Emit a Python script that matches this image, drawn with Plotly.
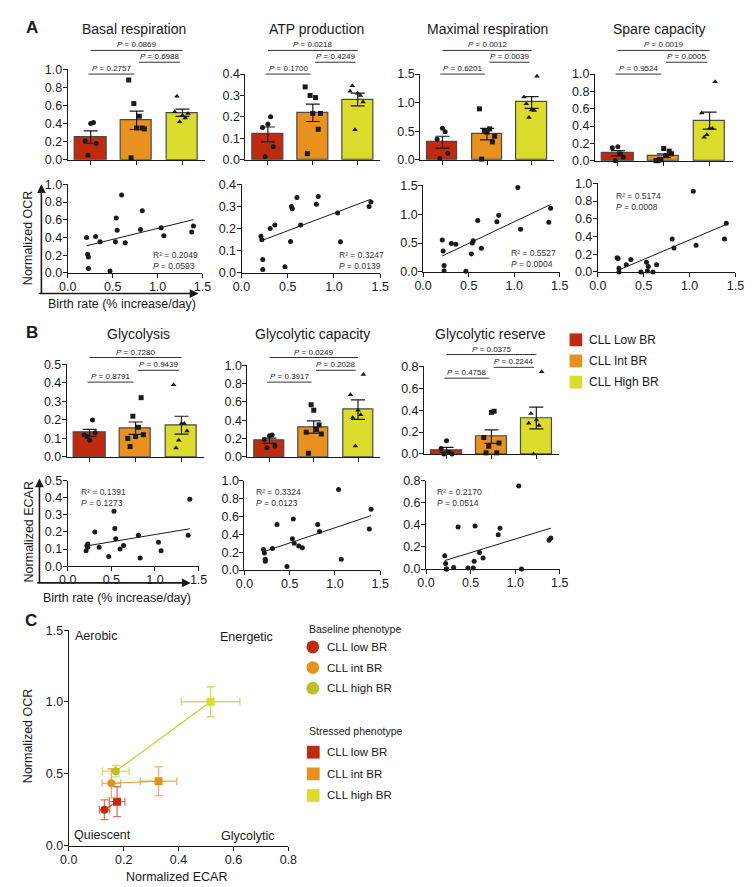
import numpy as np
import plotly.graph_objects as go

W, H = 756, 887

# ---------------- data ----------------
birth_rate = [0.21, 0.22, 0.23, 0.23, 0.31, 0.36, 0.47, 0.53, 0.54, 0.55, 0.60, 0.64,
              0.81, 0.83, 1.04, 1.07, 1.38, 1.40]
br_group = ["low", "low", "low", "low", "low",
            "int", "int", "int", "int", "int", "int", "int",
            "high", "high", "high", "high", "high", "high"]
group_order = ["low", "int", "high"]

basal_resp = [0.40, 0.21, 0.18, 0.05, 0.41, 0.35, 0.02, 0.35, 0.62, 0.48, 0.88, 0.34,
              0.49, 0.70, 0.51, 0.42, 0.46, 0.53]
atp_prod = [0.165, 0.15, 0.06, 0.015, 0.20, 0.216, 0.028, 0.142, 0.30, 0.29, 0.34, 0.216,
            0.31, 0.345, 0.27, 0.14, 0.30, 0.32]
maximal_resp = [0.55, 0.36, 0.11, 0.02, 0.49, 0.48, 0.01, 0.31, 0.50, 0.54, 0.89, 0.41,
                0.87, 0.98, 1.46, 0.74, 0.86, 1.10]
spare_cap = [0.16, 0.15, 0.04, 0.00, 0.08, 0.14, 0.00, 0.11, 0.01, 0.06, 0.00, 0.08,
             0.37, 0.27, 0.91, 0.30, 0.37, 0.55]
glycolysis = [0.09, 0.12, 0.13, 0.11, 0.20, 0.11, 0.056, 0.32, 0.22, 0.16, 0.10, 0.12,
              0.18, 0.048, 0.14, 0.09, 0.18, 0.39]
glyc_capacity = [0.23, 0.19, 0.12, 0.10, 0.24, 0.51, 0.04, 0.35, 0.57, 0.30, 0.27, 0.25,
                 0.51, 0.43, 0.90, 0.12, 0.46, 0.68]
glyc_reserve = [0.12, 0.05, 0.00, 0.00, 0.015, 0.38, 0.01, 0.01, 0.07, 0.39, 0.15, 0.10,
                0.31, 0.37, 0.75, 0.00, 0.26, 0.28]

titles_A = ["Basal respiration", "ATP production", "Maximal respiration", "Spare capacity"]
titles_B = ["Glycolysis", "Glycolytic capacity", "Glycolytic reserve"]

# bracket p-values: [low vs high, int vs high, low vs int]
pvals_basal = ["0.0869", "0.6988", "0.2757"]
pvals_atp = ["0.0218", "0.4249", "0.1700"]
pvals_maximal = ["0.0012", "0.0039", "0.6201"]
pvals_spare = ["0.0019", "0.0005", "0.9524"]
pvals_glycolysis = ["0.7280", "0.9439", "0.8791"]
pvals_capacity = ["0.0249", "0.2028", "0.3917"]
pvals_reserve = ["0.0375", "0.2244", "0.4758"]

r2_A = ["0.2049", "0.3247", "0.5527", "0.5174"]
preg_A = ["0.0593", "0.0139", "0.0004", "0.0008"]
r2_B = ["0.1391", "0.3324", "0.2170"]
preg_B = ["0.1273", "0.0123", "0.0514"]

legend_B = ["CLL Low BR", "CLL Int BR", "CLL High BR"]
legend_C = ["CLL low BR", "CLL int BR", "CLL high BR"]
quadrants = ["Aerobic", "Energetic", "Quiescent", "Glycolytic"]

# ---------------- style ----------------
FONT = "Liberation Sans, Arial, Helvetica, sans-serif"
INK = "#1a1a1a"
BAR_COLORS = ["#C02A0E", "#E8911E", "#DCDC2F"]
BASE_COLORS = ["#C02A0E", "#E8911E", "#BDBD2C"]
STRESS_COLORS = ["#C02A0E", "#E8911E", "#DCDC2F"]
LINK_COLORS = ["#C84A30", "#EC9A35", "#C8CC3C"]
ERR_COLORS = ["rgba(200,70,50,0.75)", "rgba(236,150,50,0.75)", "rgba(205,208,70,0.8)"]
SYMBOLS = ["circle", "square", "triangle-up"]
JITTER = [0.0, -0.12, 0.12, -0.06, 0.06, -0.17, 0.17]

fig = go.Figure()
layout = {}
annotations = []
shapes = []


def px_x(p):
    return p / W


def px_y(p):
    return 1 - p / H


def text(xp, yp, s, size=12, xanchor="center", yanchor="middle", angle=0, bold=False, align="left", color=INK):
    annotations.append(dict(x=px_x(xp), y=px_y(yp), xref="paper", yref="paper", text=(f"<b>{s}</b>" if bold else s),
                            showarrow=False, xanchor=xanchor, yanchor=yanchor, textangle=angle, align=align,
                            font=dict(family=FONT, size=size, color=color)))


axis_count = [0]


def new_axes(xpx, ypx, xrange, yrange, ydtick, xdtick=None, xtickvals=None):
    axis_count[0] += 1
    i = axis_count[0]
    xk = "xaxis" if i == 1 else f"xaxis{i}"
    yk = "yaxis" if i == 1 else f"yaxis{i}"
    xr = "x" if i == 1 else f"x{i}"
    yr = "y" if i == 1 else f"y{i}"
    common = dict(showline=True, linecolor=INK, linewidth=1, ticks="outside", ticklen=4, tickwidth=1,
                  tickcolor=INK, showgrid=False, zeroline=False, ticklabelstandoff=-2,
                  tickfont=dict(family=FONT, size=12.5, color=INK), fixedrange=True)
    xa = dict(common, domain=[px_x(xpx[0]), px_x(xpx[1])], range=xrange, anchor=yr)
    if xtickvals is not None:
        xa.update(tickmode="array", tickvals=xtickvals, ticktext=[""] * len(xtickvals))
    else:
        xa.update(dtick=xdtick, tick0=0, tickformat=".1f")
    ya = dict(common, domain=[px_y(ypx[1]), px_y(ypx[0])], range=yrange, anchor=xr,
              dtick=ydtick, tick0=0, tickformat=".1f")
    layout[xk] = xa
    layout[yk] = ya
    return xr, yr


def group_stats(values):
    v = np.array(values, dtype=float)
    g = np.array(br_group)
    means, sems = [], []
    for name in group_order:
        sub = v[g == name]
        means.append(sub.mean())
        sems.append(sub.std(ddof=1) / np.sqrt(len(sub)))
    return means, sems


def bar_panel(values, xpx, ypx, ymax, ydtick, title, title_xy, pvals, bracket_y):
    xr, yr = new_axes(xpx, ypx, [-0.5, 2.5], [0, ymax], ydtick, xtickvals=[0, 1, 2])
    means, sems = group_stats(values)
    fig.add_trace(go.Bar(x=[0, 1, 2], y=means, xaxis=xr, yaxis=yr, width=0.68,
                         marker=dict(color=BAR_COLORS, line=dict(color="#4a4a4a", width=1.2)),
                         error_y=dict(type="data", array=sems, color=INK, thickness=1.2, width=7),
                         hoverinfo="skip"))
    v = np.array(values, dtype=float)
    g = np.array(br_group)
    for k, name in enumerate(group_order):
        sub = v[g == name]
        xs = k + np.array(JITTER[:len(sub)])
        fig.add_trace(go.Scatter(x=xs, y=sub, mode="markers", xaxis=xr, yaxis=yr, cliponaxis=False,
                                 marker=dict(symbol=SYMBOLS[k], size=5, color=INK), hoverinfo="skip"))
    spans = [(0, 2), (1.05, 1.95), (-0.05, 0.95)]
    for (a, b), p, yp in zip(spans, pvals, bracket_y):
        shapes.append(dict(type="line", xref=xr, yref="paper", x0=a, x1=b, y0=px_y(yp), y1=px_y(yp),
                           line=dict(color="#333333", width=1)))
        annotations.append(dict(xref=xr, yref="paper", x=(a + b) / 2, y=px_y(yp), yanchor="bottom",
                                text=f"<i>P</i> = {p}", showarrow=False, yshift=-1,
                                font=dict(family=FONT, size=8, color=INK)))
    text(title_xy[0], title_xy[1], title, size=14)


def scatter_panel(values, xpx, ypx, ymax, ydtick, stat_xy, r2, preg):
    xr, yr = new_axes(xpx, ypx, [0, 1.5], [0, ymax], ydtick, xdtick=0.5)
    x = np.array(birth_rate, dtype=float)
    y = np.array(values, dtype=float)
    fig.add_trace(go.Scatter(x=x, y=y, mode="markers", xaxis=xr, yaxis=yr, cliponaxis=False,
                             marker=dict(size=5, color=INK), hoverinfo="skip"))
    slope, icpt = np.polyfit(x, y, 1)
    xl = np.array([x.min(), x.max()])
    fig.add_trace(go.Scatter(x=xl, y=slope * xl + icpt, mode="lines", xaxis=xr, yaxis=yr,
                             line=dict(color=INK, width=1), hoverinfo="skip"))
    text(stat_xy[0], stat_xy[1], f"R² = {r2}<br><i>P</i> = {preg}", size=8.5, xanchor="left",
         yanchor="top", color="#333333")


# ---------------- panel A ----------------
A_bar_geom = [([52, 193], [55, 147], 1.0, 0.2, (120, 14)),
              ([234, 372], [60, 147], 0.4, 0.1, (307, 14)),
              ([413, 550], [60, 147], 1.5, 0.5, (482, 14)),
              ([592, 733], [60, 148], 1.0, 0.2, (658, 14))]
A_vals = [basal_resp, atp_prod, maximal_resp, spare_cap]
A_p = [pvals_basal, pvals_atp, pvals_maximal, pvals_spare]
for (xpx, ypx, ymax, dt, txy), vals, pv, ttl in zip(A_bar_geom, A_vals, A_p, titles_A):
    bar_panel(vals, xpx, ypx, ymax, dt, ttl, txy, pv, [36, 48, 60])

A_sc_geom = [([52, 190], [172, 262], 1.0, 0.2, (137, 237)),
             ([230, 372], [172, 262], 0.4, 0.1, (328, 237)),
             ([416, 556], [173, 261], 1.5, 0.5, (504, 235)),
             ([595, 736], [171, 261], 1.0, 0.2, (612, 177))]
for (xpx, ypx, ymax, dt, sxy), vals, r2, pr in zip(A_sc_geom, A_vals, r2_A, preg_A):
    scatter_panel(vals, xpx, ypx, ymax, dt, sxy, r2, pr)

# ---------------- panel B ----------------
B_bar_geom = [([51, 192], [355, 449], 0.5, 0.1, (124, 324), [348, 361, 373]),
              ([236, 372], [356, 449], 1.0, 0.2, (303, 324), [348, 361, 373]),
              ([417, 555], [357, 446], 0.8, 0.2, (485, 324), [345, 358, 369])]
B_vals = [glycolysis, glyc_capacity, glyc_reserve]
B_p = [pvals_glycolysis, pvals_capacity, pvals_reserve]
for (xpx, ypx, ymax, dt, txy, by), vals, pv, ttl in zip(B_bar_geom, B_vals, B_p, titles_B):
    bar_panel(vals, xpx, ypx, ymax, dt, ttl, txy, pv, by)

B_sc_geom = [([52, 186], [473, 560], 0.5, 0.1, (63, 478)),
             ([233, 372], [473, 564], 1.0, 0.2, (243, 478)),
             ([419, 556], [473, 563], 0.8, 0.2, (428, 478))]
for (xpx, ypx, ymax, dt, sxy), vals, r2, pr in zip(B_sc_geom, B_vals, r2_B, preg_B):
    scatter_panel(vals, xpx, ypx, ymax, dt, sxy, r2, pr)

# legend B
for k, lab in enumerate(legend_B):
    yc = 330 + k * 21.5
    shapes.append(dict(type="rect", xref="paper", yref="paper", x0=px_x(566), x1=px_x(579),
                       y0=px_y(yc + 6.5), y1=px_y(yc - 6.5), fillcolor=BAR_COLORS[k], line=dict(width=0)))
    text(584, yc, lab, size=12, xanchor="left")

# axis arrows and labels for rows A and B scatter
for (xh, yv_top, yc, xend, lab_y, ylab, ylab_y) in [(25, 172, 283, 186, 294, "Normalized OCR", 227),
                                                     (23, 471, 577, 178, 592, "Normalized ECAR", 525)]:
    annotations.append(dict(x=px_x(xh), y=px_y(yv_top), xref="paper", yref="paper", text="", showarrow=True,
                            ax=0, ay=yc - yv_top, arrowhead=2, arrowsize=1.1, arrowwidth=1.6, arrowcolor=INK))
    annotations.append(dict(x=px_x(xend), y=px_y(yc), xref="paper", yref="paper", text="", showarrow=True,
                            ax=-(xend - xh), ay=0, arrowhead=2, arrowsize=1.1, arrowwidth=1.6, arrowcolor=INK))
    text((xh + xend) / 2 + 2, lab_y, "Birth rate (% increase/day)", size=12.5)
    text(12, ylab_y, ylab, size=12.5, angle=-90)

# ---------------- panel C ----------------
xr, yr = new_axes([53, 278], [625, 844], [0, 0.8], [0, 1.5], 0.5, xdtick=0.2)
ocr_base_m, ocr_base_s = group_stats(basal_resp)
ecar_base_m, ecar_base_s = group_stats(glycolysis)
ocr_str_m, ocr_str_s = group_stats(maximal_resp)
ecar_str_m, ecar_str_s = group_stats(glyc_capacity)
for k in range(3):
    fig.add_trace(go.Scatter(x=[ecar_base_m[k], ecar_str_m[k]], y=[ocr_base_m[k], ocr_str_m[k]],
                             mode="lines", line=dict(color=LINK_COLORS[k], width=1.2), xaxis=xr, yaxis=yr,
                             hoverinfo="skip"))
for k in range(3):
    for xm, xs, ym, ys, sym, col in [(ecar_str_m, ecar_str_s, ocr_str_m, ocr_str_s, "square", STRESS_COLORS[k]),
                                     (ecar_base_m, ecar_base_s, ocr_base_m, ocr_base_s, "circle", BASE_COLORS[k])]:
        fig.add_trace(go.Scatter(x=[xm[k]], y=[ym[k]], mode="markers", xaxis=xr, yaxis=yr,
                                 marker=dict(symbol=sym, size=8, color=col),
                                 error_x=dict(type="data", array=[xs[k]], color=ERR_COLORS[k], thickness=1.3, width=4),
                                 error_y=dict(type="data", array=[ys[k]], color=ERR_COLORS[k], thickness=1.3, width=4),
                                 hoverinfo="skip"))

text(57, 631, quadrants[0], size=12.5, xanchor="left")
text(264, 632, quadrants[1], size=12.5, xanchor="right")
text(56, 833, quadrants[2], size=12.5, xanchor="left")
text(265, 834, quadrants[3], size=12.5, xanchor="right")
text(163, 876, "Normalized ECAR", size=12.5)
text(12, 733, "Normalized OCR", size=12.5, angle=-90)

# legend C
text(297, 624, "Baseline phenotype", size=10.5, xanchor="left")
for k, lab in enumerate(legend_C):
    yc = 642 + k * 21
    shapes.append(dict(type="circle", xref="paper", yref="paper", x0=px_x(296.5), x1=px_x(309.5),
                       y0=px_y(yc + 6.5), y1=px_y(yc - 6.5), fillcolor=BASE_COLORS[k], line=dict(width=0)))
    text(315, yc, lab, size=11.5, xanchor="left")
text(297, 727, "Stressed phenotype", size=10.5, xanchor="left")
for k, lab in enumerate(legend_C):
    yc = 749 + k * 22
    shapes.append(dict(type="rect", xref="paper", yref="paper", x0=px_x(297), x1=px_x(310),
                       y0=px_y(yc + 6.5), y1=px_y(yc - 6.5), fillcolor=STRESS_COLORS[k], line=dict(width=0)))
    text(315, yc, lab, size=11.5, xanchor="left")

# panel letters
text(7, 13, "A", size=17, xanchor="left", bold=True)
text(7, 323, "B", size=17, xanchor="left", bold=True)
text(6, 615, "C", size=17, xanchor="left", bold=True)

fig.update_layout(width=W, height=H, margin=dict(l=0, r=0, t=0, b=0, pad=0),
                  plot_bgcolor="white", paper_bgcolor="white", showlegend=False,
                  hovermode=False, bargap=0, annotations=annotations, shapes=shapes,
                  font=dict(family=FONT, color=INK), **layout)
fig.write_html("out.html")
